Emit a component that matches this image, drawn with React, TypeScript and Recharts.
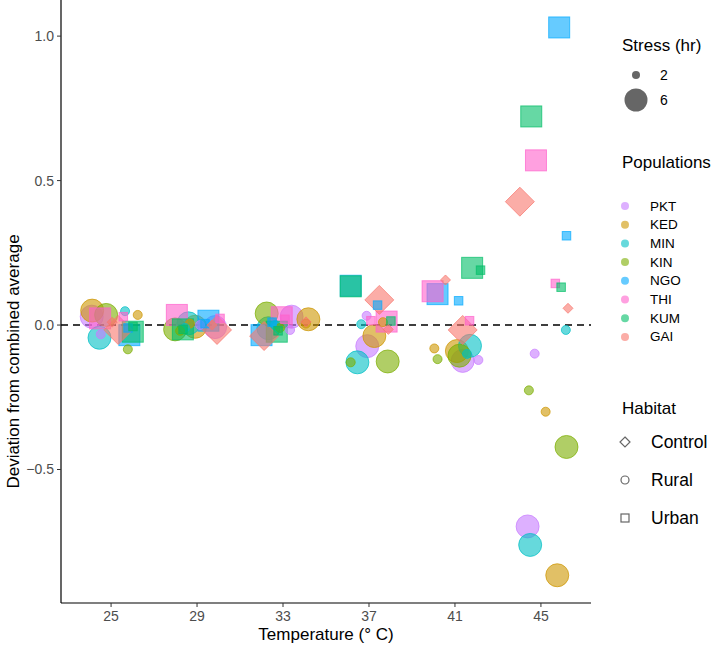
import { ScatterChart, Scatter, XAxis, YAxis, ReferenceLine, Label } from 'recharts';

const temps = [25, 29, 33, 37, 41, 45];
const populations = ['PKT', 'KED', 'MIN', 'KIN', 'NGO', 'THI', 'KUM', 'GAI'];
const habitats = ['Rural', 'Rural', 'Rural', 'Rural', 'Urban', 'Urban', 'Urban', 'Control'];
const popColors = ['#C77CFF', '#CD9600', '#00BFC4', '#7CAE00', '#00A9FF', '#FF61CC', '#00BE67', '#F8766D'];
const stressLevels = [2, 6];
const habitatLevels = ['Control', 'Rural', 'Urban'];

// deviation from combined average, one row per population, one column per temperature
const dev2 = [
  [-0.032, 0.0, -0.017, 0.032, -0.121, -0.099],
  [0.035, 0.005, 0.005, 0.01, -0.081, -0.3],
  [0.048, -0.01, 0.0, 0.003, -0.1, -0.017],
  [-0.084, -0.02, -0.01, -0.129, -0.118, -0.226],
  [-0.01, 0.005, 0.01, 0.069, 0.084, 0.309],
  [0.029, 0.023, 0.02, 0.015, 0.015, 0.144],
  [-0.005, -0.015, -0.02, 0.014, 0.19, 0.131],
  [0.01, 0.0, 0.011, -0.015, 0.156, 0.058],
];
const dev6 = [
  [0.029, -0.007, 0.029, -0.073, -0.124, -0.697],
  [0.05, -0.006, 0.02, -0.038, -0.09, -0.866],
  [-0.044, 0.006, -0.011, -0.129, -0.072, -0.761],
  [0.035, -0.015, 0.04, -0.126, -0.106, -0.422],
  [-0.035, 0.015, -0.035, 0.136, 0.107, 1.03],
  [0.023, 0.035, 0.027, 0.012, 0.117, 0.57],
  [-0.023, -0.015, -0.023, 0.134, 0.198, 0.722],
  [-0.017, -0.017, -0.038, 0.087, -0.017, 0.427],
];

// horizontal jitter (°C) of each point
const jit2 = [
  [-0.48, 0.14, 0.33, -0.11, 1.09, -0.29],
  [1.24, -0.33, 1.07, 0.65, -0.96, 0.22],
  [0.65, -0.56, -0.37, -0.36, 0.56, 1.16],
  [0.78, -0.79, -0.14, -0.85, -0.81, -0.56],
  [0.79, 0.37, -0.51, 0.4, 0.17, 1.19],
  [0.57, 1.07, 0.09, 0.09, 0.68, 0.67],
  [1.02, -0.65, -0.23, 1.02, 1.19, 0.94],
  [0.05, 0.7, 1.07, 0.9, -0.44, 1.26],
];
const jit6 = [
  [-0.9, 0.84, 0.4, -0.08, 0.36, -0.62],
  [-0.88, -0.09, 1.18, 0.25, 0.09, 0.76],
  [-0.54, -0.4, -0.68, -0.54, 0.7, -0.5],
  [-0.23, -1.02, -0.76, 0.87, 0.21, 1.19],
  [0.85, 0.53, -1.0, -0.85, -0.81, 0.85],
  [-0.51, -0.94, -0.06, 0.82, -1.04, -0.23],
  [1.01, -0.66, -0.29, -0.85, 0.8, -0.45],
  [0.33, 0.93, -0.88, 0.48, 0.36, -0.98],
];

const yTicks = [-0.5, 0, 0.5, 1.0];

const points: any[] = [];
[[6, dev6, jit6], [2, dev2, jit2]].forEach(([stress, dev, jit]: any) => {
  populations.forEach((p, i) => {
    temps.forEach((t, j) => {
      points.push({ x: t + jit[i][j], y: dev[i][j], stress, pop: p, habitat: habitats[i], color: popColors[i] });
    });
  });
});

const FONT = '"Liberation Sans", Arial, sans-serif';

function Marker({ cx, cy, big, habitat, color }: any) {
  const common = { fill: color, fillOpacity: 0.6, stroke: color, strokeOpacity: 0.7, strokeWidth: 1 };
  if (habitat === 'Rural') return <circle cx={cx} cy={cy} r={big ? 11.5 : 4.5} {...common} />;
  if (habitat === 'Urban') {
    const s = big ? 21 : 8.5;
    return <rect x={cx - s / 2} y={cy - s / 2} width={s} height={s} {...common} />;
  }
  const d = big ? 14.5 : 5;
  return <polygon points={`${cx},${cy - d} ${cx + d},${cy} ${cx},${cy + d} ${cx - d},${cy}`} {...common} />;
}

const renderPoint = (props: any) => {
  const { cx, cy, payload } = props;
  return <Marker cx={cx} cy={cy} big={payload.stress === 6} habitat={payload.habitat} color={payload.color} />;
};

function fmt(v: number) {
  const s = Math.abs(v).toFixed(1);
  return v < 0 ? '\u2212' + s : s;
}

function Legend() {
  return (
    <svg width={720} height={648} style={{ position: 'absolute', left: 0, top: 0, pointerEvents: 'none' }}>
      <g fontFamily={FONT}>
        <text x={622} y={45} fontSize={17} dominantBaseline="central" fill="#000">Stress (hr)</text>
        {stressLevels.map((s, i) => (
          <g key={s}>
            <circle cx={636} cy={75 + i * 25} r={s === 6 ? 11.5 : 4} fill="#000" fillOpacity={0.6} />
            <text x={660} y={75 + i * 25} fontSize={14} dominantBaseline="central">{s}</text>
          </g>
        ))}
        <text x={622} y={162} fontSize={17} dominantBaseline="central" fill="#000">Populations</text>
        {populations.map((p, i) => (
          <g key={p}>
            <circle cx={625} cy={206 + i * 18.7} r={4} fill={popColors[i]} fillOpacity={0.6} />
            <text x={650} y={206 + i * 18.7} fontSize={13.5} dominantBaseline="central">{p}</text>
          </g>
        ))}
        <text x={622} y={408} fontSize={17} dominantBaseline="central" fill="#000">Habitat</text>
        {habitatLevels.map((h, i) => {
          const cy = 442 + i * 38;
          const col = '#666';
          let sym;
          if (h === 'Control') sym = <polygon points={`625,${cy - 5} 630,${cy} 625,${cy + 5} 620,${cy}`} fill="none" stroke={col} strokeWidth={1.2} />;
          else if (h === 'Rural') sym = <circle cx={625} cy={cy} r={4} fill="none" stroke={col} strokeWidth={1.2} />;
          else sym = <rect x={621} y={cy - 4} width={8} height={8} fill="none" stroke={col} strokeWidth={1.2} />;
          return (
            <g key={h}>
              {sym}
              <text x={651} y={cy} fontSize={17.5} dominantBaseline="central">{h}</text>
            </g>
          );
        })}
      </g>
    </svg>
  );
}

export default function App() {
  return (
    <div style={{ position: 'absolute', left: 0, top: 0, width: 720, height: 648, background: '#fff', fontFamily: FONT }}>
      <ScatterChart width={720} height={648} margin={{ top: 0, right: 129, bottom: 0, left: 0 }}>
        <XAxis
          type="number"
          dataKey="x"
          domain={[22.67, 47.33]}
          ticks={temps}
          allowDataOverflow
          height={45}
          stroke="#000"
          tickSize={4}
          tickMargin={4}
          tick={{ fill: '#4D4D4D', fontSize: 14, fontFamily: FONT }}
          axisLine={{ stroke: '#000', strokeWidth: 1.2 }}
          tickLine={{ stroke: '#333', strokeWidth: 1 }}
        >
          <Label value="Temperature (° C)" position="center" dy={8} style={{ fontSize: 17, fill: '#000', fontFamily: FONT }} />
        </XAxis>
        <YAxis
          type="number"
          dataKey="y"
          domain={[-0.962, 1.125]}
          ticks={yTicks}
          allowDataOverflow
          width={61}
          tickFormatter={fmt}
          tickSize={4}
          tickMargin={3}
          tick={{ fill: '#4D4D4D', fontSize: 14, fontFamily: FONT }}
          axisLine={{ stroke: '#000', strokeWidth: 1.2 }}
          tickLine={{ stroke: '#333', strokeWidth: 1 }}
        >
          <Label value="Deviation from combined average" angle={-90} position="center" dx={-18} dy={60} style={{ fontSize: 17, fill: '#000', fontFamily: FONT, textAnchor: 'middle' }} />
        </YAxis>
        <ReferenceLine y={0} stroke="#000" strokeWidth={1.5} strokeDasharray="7 5" />
        <Scatter data={points} shape={renderPoint} isAnimationActive={false} />
      </ScatterChart>
      <Legend />
    </div>
  );
}
